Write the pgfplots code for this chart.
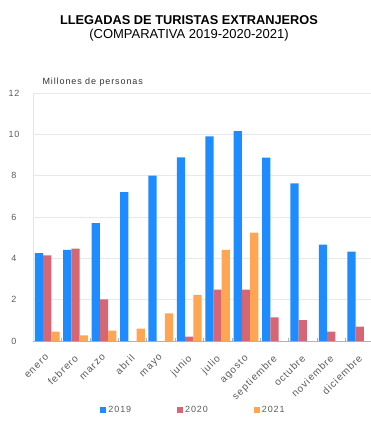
\documentclass[border=0pt]{standalone}
\usepackage{fontspec}
\setmainfont{Liberation Sans}
\newfontfamily\lbl[LetterSpace=10]{Liberation Sans}
\usepackage{pgfplots}
\pgfplotsset{compat=1.18}

\definecolor{c2019}{RGB}{30,140,255}
\definecolor{c2020}{RGB}{214,102,116}
\definecolor{c2021}{RGB}{255,166,84}
\definecolor{txtgray}{RGB}{90,90,90}

\newcommand{\smallfont}{\lbl\fontsize{9}{10}\selectfont}
\newcommand{\monthfont}{\lbl\fontsize{10}{11}\selectfont}

\begin{document}
\begin{tikzpicture}
% page frame; the plot area starts at (0,0)
\useasboundingbox (-33pt,-90pt) rectangle (338pt,341pt);

% titles
\node[anchor=base, font=\bfseries\fontsize{12.8}{14}\selectfont] at (156pt,316pt) {LLEGADAS DE TURISTAS EXTRANJEROS};
\node[anchor=base, font=\fontsize{13}{14}\selectfont] at (156pt,302pt) {(COMPARATIVA 2019-2020-2021)};
\node[anchor=base west, font=\smallfont, text=black!80] at (6pt,256pt) {Millones de personas};

\begin{axis}[
  scale only axis, width=338pt, height=248pt,
  xmin=-0.5, xmax=11.4, ymin=0, ymax=12,
  axis x line*=bottom, axis y line*=left,
  axis line style={-},
  x axis line style={draw=gray!60, line width=0.8pt},
  y axis line style={draw=gray!20, line width=0.8pt},
  ytick={0,2,...,12},
  ymajorgrids, grid style={draw=gray!18, line width=0.8pt},
  ytick style={draw=none},
  xtick={0,...,11},
  xticklabels={enero,febrero,marzo,abril,mayo,junio,julio,agosto,septiembre,octubre,noviembre,diciembre},
  major x tick style={draw=none},
  minor xtick={0.5,1.5,...,10.5},
  minor x tick style={draw=gray!60, line width=0.6pt},
  minor tick length=3pt, tick align=inside,
  /pgf/number format/assume math mode=true,
  yticklabel style={font=\smallfont, text=txtgray, anchor=center, xshift=-19pt},
  xticklabel style={font=\monthfont, text=txtgray, xshift=-2pt, yshift=-8pt, rotate=45, anchor=north east},
  legend columns=3,
  legend style={at={(0.475,-0.278)}, anchor=center, draw=none, fill=none,
    font=\smallfont, text=txtgray,
    /tikz/every even column/.append style={column sep=44pt}},
  legend image code/.code={\fill[#1] (0pt,-3pt) rectangle (6pt,3pt);},
]
% 2019
\addplot[ybar, bar width=0.29, bar shift=-0.29, fill=c2019, draw=none] coordinates {
  (0,4.25) (1,4.41) (2,5.70) (3,7.20) (4,8.00) (5,8.89)
  (6,9.90) (7,10.15) (8,8.87) (9,7.63) (10,4.66) (11,4.32)};
\addlegendentry{2019}
% 2020
\addplot[ybar, bar width=0.29, bar shift=0, fill=c2020, draw=none] coordinates {
  (0,4.14) (1,4.47) (2,2.02) (5,0.21)
  (6,2.48) (7,2.48) (8,1.14) (9,1.01) (10,0.45) (11,0.69)};
\addlegendentry{2020}
% 2021
\addplot[ybar, bar width=0.29, bar shift=0.29, fill=c2021, draw=none] coordinates {
  (0,0.45) (1,0.27) (2,0.50) (3,0.60) (4,1.34) (5,2.23)
  (6,4.41) (7,5.24)};
\addlegendentry{2021}
\end{axis}
\end{tikzpicture}
\end{document}
